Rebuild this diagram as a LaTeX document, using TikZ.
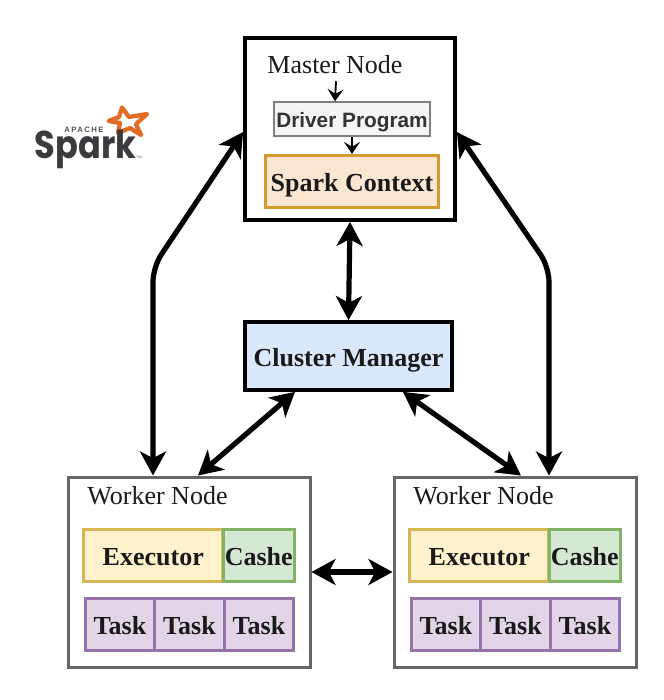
\documentclass[tikz,border=0pt]{standalone}
\usepackage{fontspec}
\setmainfont{Liberation Serif}
\newfontfamily\drvfont{Liberation Sans}
\newfontfamily\logofont{Poppins}
\newfontfamily\apachefont[LetterSpace=18]{Liberation Sans}
\usetikzlibrary{arrows.meta,calc}
\definecolor{txt}{HTML}{1A1A1A}
\definecolor{ctxline}{RGB}{212,155,45}
\definecolor{ctxfill}{RGB}{251,230,210}
\definecolor{cmfill}{RGB}{218,232,252}
\definecolor{exline}{RGB}{214,182,86}
\definecolor{exfill}{RGB}{255,242,204}
\definecolor{caline}{RGB}{130,179,102}
\definecolor{cafill}{RGB}{213,232,212}
\definecolor{taline}{RGB}{150,115,166}
\definecolor{tafill}{RGB}{225,213,231}
\definecolor{sparkorange}{RGB}{226,107,40}
\definecolor{sparkgray}{RGB}{60,58,62}
\tikzset{
  x=0.75pt,y=-0.75pt,
  bigtip/.tip={Stealth[length=18pt,width=19.5pt,inset=5pt]},
  smalltip/.tip={Stealth[length=9pt,width=12pt,inset=3.5pt]},
  link/.style={draw=black,line width=3.9pt,{bigtip}-{bigtip}},
  minor/.style={draw=black,line width=1.4pt,-{smalltip}},
  box/.style={rectangle,inner sep=0pt,align=center,text=txt,text height=19pt,text depth=3.9pt,
    font=\fontsize{19.5pt}{22pt}\selectfont\bfseries},
  frame/.style={rectangle,fill=white,line width=#1},
  title/.style={inner sep=0pt,text=txt,font=\fontsize{19.5pt}{22pt}\selectfont},
  execbox/.style={box,draw=exline,fill=exfill,line width=2.25pt,minimum width=104.6pt,minimum height=39pt},
  cachebox/.style={box,draw=caline,fill=cafill,line width=2.25pt,minimum width=53pt,minimum height=39pt},
  taskbox/.style={box,draw=taline,fill=tafill,line width=2.25pt,minimum width=52.3pt,minimum height=39pt},
}
\begin{document}
\begin{tikzpicture}
\useasboundingbox (0,0) rectangle (664,700);
\fill[white] (0,0) rectangle (664,700);

% Master
\node[frame=2.8pt,draw=black,minimum width=157.5pt,minimum height=136.5pt] (master) at (350,129) {};
\node[title,minimum height=24pt] (mlabel) at (335,65) {Master Node};
\node[box,draw=black!50,fill=black!4,line width=1.2pt,minimum width=117pt,minimum height=25.5pt,
  text=black!80,text height=14.6pt,text depth=2pt,font=\fontsize{15.6pt}{18pt}\selectfont\drvfont\bfseries] (driver) at (352,119) {Driver Program};
\node[box,draw=ctxline,fill=ctxfill,line width=2.3pt,minimum width=129.75pt,minimum height=39pt] (context) at (352,181.5) {Spark Context};
\draw[minor] ($(mlabel.south)+(1,0)$) -- (mlabel.south |- driver.north);
\draw[minor] (driver.south) -- (context.north);

% Cluster manager
\node[box,draw=black,fill=cmfill,line width=2.8pt,minimum width=155.25pt,minimum height=51pt] (cm) at (348.5,356) {Cluster Manager};

% Left worker
\node[frame=2.25pt,draw=black!60,minimum width=181.5pt,minimum height=142.5pt] (wl) at (189,572) {};
\node[title] (wllabel) at (157.5,496) {Worker Node};
\node[execbox] (wlexec) at (153.25,555.5) {Executor};
\node[cachebox] (wlcache) at (258.75,555.5) {Cashe};
\node[taskbox] (wlt1) at (120,624.5) {Task};
\node[taskbox] (wlt2) at (189.5,624.5) {Task};
\node[taskbox] (wlt3) at (259,624.5) {Task};

% Right worker
\node[frame=2.25pt,draw=black!60,minimum width=181.5pt,minimum height=142.5pt] (wr) at (515,572) {};
\node[title] (wrlabel) at (483.5,496) {Worker Node};
\node[execbox] (wrexec) at (479.25,555.5) {Executor};
\node[cachebox] (wrcache) at (584.75,555.5) {Cashe};
\node[taskbox] (wrt1) at (446,624.5) {Task};
\node[taskbox] (wrt2) at (515.5,624.5) {Task};
\node[taskbox] (wrt3) at (585,624.5) {Task};

% Connectors
\coordinate (bendl) at (153,267);
\coordinate (bendr) at (549,267);
\draw[link,rounded corners=11pt] ($(master.west)+(0,3)$) -- (bendl) -- (bendl |- wl.north);
\draw[link,rounded corners=11pt] ($(master.east)+(0,3)$) -- (bendr) -- (bendr |- wr.north);
\draw[link] (master.south) -- (cm.north);
\draw[link] ($(cm.south)+(-53.5,0)$) -- ($(wl.north)+(9,0)$);
\draw[link] ($(cm.south)+(54.5,0)$) -- ($(wr.north)+(6,0)$);
\draw[link] (wl.east) -- (wr.west);

% Logo
\draw[draw=sparkorange,line width=3.2pt,line join=round]
  (122,107.5) -- (129,117) -- (147,114) -- (136,124) -- (141,135) -- (130,128) -- (118,133) -- (120,123) -- (108.5,121) -- (119,117) -- cycle;
\node[anchor=base,inner sep=0pt,text=sparkgray,font=\fontsize{29pt}{32pt}\selectfont\logofont\bfseries] (sparkword) at (85.5,158) {\scalebox{.87}[1]{Spark}};
\node[inner sep=0pt,text=sparkgray!90,font=\fontsize{5.8pt}{7pt}\selectfont\apachefont\bfseries] (apache) at (84,129.5) {APACHE};
\node[inner sep=0pt,text=black!60,font=\fontsize{2.8pt}{3pt}\selectfont\drvfont] (tm) at (139,157) {TM};
\end{tikzpicture}
\end{document}
